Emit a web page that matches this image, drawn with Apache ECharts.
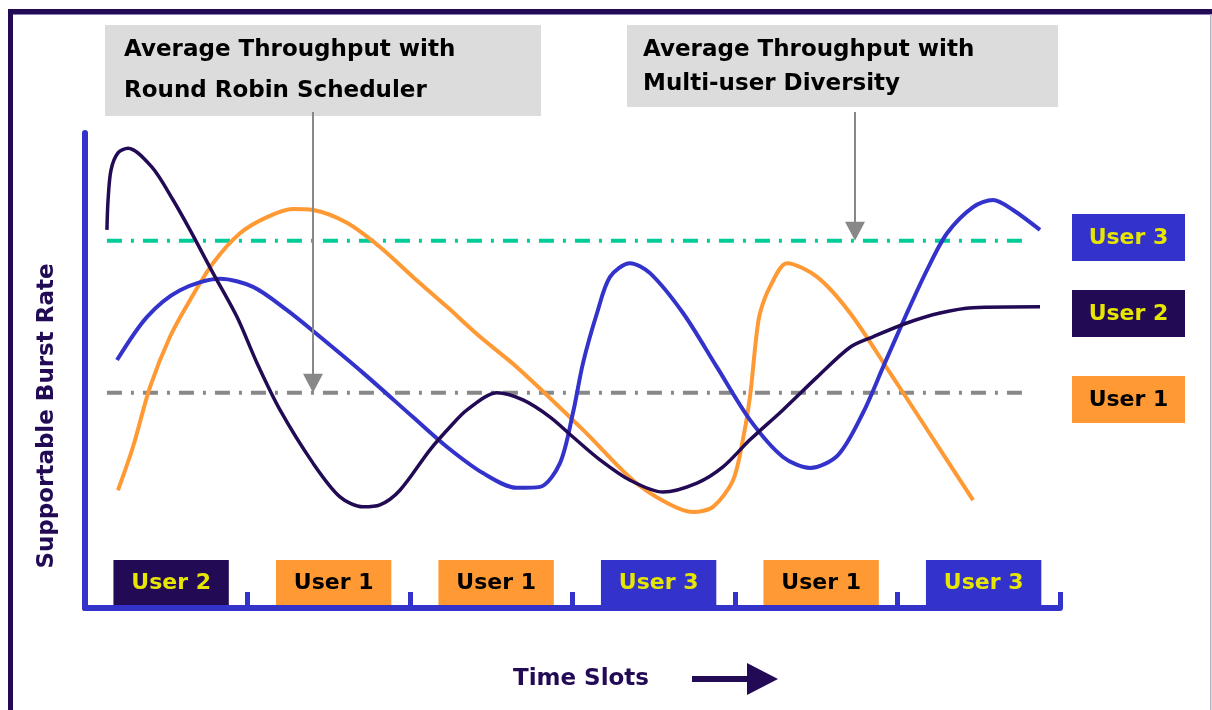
<!DOCTYPE html>
<html><head><meta charset="utf-8">
<script src="https://cdn.jsdelivr.net/npm/echarts@6/dist/echarts.min.js"></script>
<style>html,body{margin:0;padding:0;background:#fff}#c{width:1212px;height:710px}</style>
</head><body><div id="c"></div>
<script>
// ---- data (x in time-slot units, y in relative burst-rate units 0-100) ----
const user1X = [0.203,0.295,0.4,0.523,0.646,0.788,0.954,1.12,1.28,1.403,1.612,1.815,2.018,2.228,2.431,2.658,3.065,3.372,3.582,3.742,3.865,3.988,4.049,4.092,4.13,4.154,4.215,4.32,4.505,4.708,4.954,5.157,5.465];
const user1Y = [24.8,33.9,46.5,57.1,64.8,72.6,78.9,82.3,84.0,83.8,81.1,76.0,69.7,63.4,57.1,50.7,37.5,26.9,22.1,20.2,21.3,26.9,35.5,44.4,56.8,62.1,67.6,72.6,69.7,62.1,49.5,38.9,22.7];
const user2X = [0.135,0.142,0.16,0.203,0.265,0.412,0.542,0.646,0.788,0.935,1.058,1.2,1.403,1.569,1.711,1.815,1.938,2.123,2.246,2.351,2.535,2.695,2.862,3.003,3.169,3.354,3.557,3.766,3.926,4.092,4.295,4.505,4.708,4.849,5.058,5.262,5.465,5.877];
const user2Y = [79.6,85.9,92.2,95.8,96.8,92.8,85.9,79.6,70.5,61.3,51.6,41.7,30.5,23.4,21.3,21.7,24.8,33.3,38.1,41.7,45.3,43.8,40.2,36.0,31.2,26.9,24.4,26.3,29.7,35.4,41.7,48.6,54.9,57.1,60.0,62.1,63.2,63.4];
const user3X = [0.197,0.382,0.585,0.831,1.034,1.243,1.446,1.711,2.018,2.228,2.449,2.658,2.8,2.923,3.003,3.065,3.151,3.231,3.354,3.477,3.68,3.889,4.092,4.295,4.462,4.634,4.788,4.911,5.058,5.182,5.305,5.465,5.588,5.711,5.877];
const user3Y = [52.2,61.3,66.9,69.3,67.6,62.7,57.1,49.5,40.2,33.9,28.4,25.3,25.5,30.5,41.1,51.6,62.1,69.7,72.6,70.5,62.1,50.7,39.6,31.8,29.5,32.2,41.1,50.7,62.1,71.2,78.9,84.4,85.9,83.8,79.6];
const avgRoundRobin = 45.3;     // average throughput, round robin
const avgMultiUser = 77.3;      // average throughput, multi-user diversity
const avgLineX = [0.135, 5.79];
const slotUsers = ['User 2','User 1','User 1','User 3','User 1','User 3'];
const legendUsers = ['User 3','User 2','User 1'];
const annotationRR = ['Average Throughput with','Round Robin Scheduler'];
const annotationMU = ['Average Throughput with','Multi-user Diversity'];
const yTitle = 'Supportable Burst Rate';
const xTitle = 'Time Slots';

// ---- styles ----
const C = {
  'User 1': {fill:'#ff9933', text:'#000000'},
  'User 2': {fill:'#220a55', text:'#e6e600'},
  'User 3': {fill:'#3333cc', text:'#e6e600'}
};
const FONT = '"DejaVu Sans", "Liberation Sans", Arial, sans-serif';
const zip = (a,b) => a.map((v,i)=>[v,b[i]]);

const chart = echarts.init(document.getElementById('c'), null, {renderer:'canvas'});

const curveCommon = {type:'line', smooth:0.3, showSymbol:false};
const option = {
  backgroundColor:'#ffffff',
  animation:false,
  grid:{left:85, right:152, top:133, bottom:102, containLabel:false},
  xAxis:{type:'value', min:0, max:6, interval:1,
    axisLine:{show:true, onZero:false, lineStyle:{color:'#3333cc', width:6}},
    axisTick:{show:true, inside:true, length:16, lineStyle:{color:'#3333cc', width:5}},
    axisLabel:{show:false}, splitLine:{show:false}},
  yAxis:{type:'value', min:0, max:100,
    axisLine:{show:true, lineStyle:{color:'#3333cc', width:6}},
    axisTick:{show:false}, axisLabel:{show:false}, splitLine:{show:false}},
  series:[
    {name:'avgMU', type:'line', data:avgLineX.map(x=>[x,avgMultiUser]), showSymbol:false, silent:true,
      lineStyle:{color:'#00cc99', width:4, type:[15,9,3,9]}, z:2},
    {name:'avgRR', type:'line', data:avgLineX.map(x=>[x,avgRoundRobin]), showSymbol:false, silent:true,
      lineStyle:{color:'#888888', width:4, type:[15,9,3,9]}, z:2},
    Object.assign({name:'User 1', data:zip(user1X,user1Y), lineStyle:{color:'#ff9933', width:4}, z:3}, curveCommon),
    Object.assign({name:'User 3', data:zip(user3X,user3Y), lineStyle:{color:'#3333cc', width:4}, z:4}, curveCommon),
    Object.assign({name:'User 2', data:zip(user2X,user2Y), lineStyle:{color:'#220a55', width:3.5}, z:5}, curveCommon),
    {name:'slots', type:'custom', z:6, clip:false,
      data:slotUsers.map((u,i)=>[i+0.53, 0]),
      renderItem:function(params, api){
        const u = slotUsers[params.dataIndex];
        const c = api.value(0);
        const p0 = api.coord([c-0.355, 0]);
        const p1 = api.coord([c+0.355, 0]);
        return {type:'group', children:[
          {type:'rect', shape:{x:p0[0], y:p0[1]-48, width:p1[0]-p0[0], height:45}, style:{fill:C[u].fill}},
          {type:'text', style:{text:u, x:(p0[0]+p1[0])/2, y:p0[1]-25, align:'center', verticalAlign:'middle',
            fill:C[u].text, font:'bold 22px '+FONT}}
        ]};
      }}
  ]
};
chart.setOption(option);

const yRR = chart.convertToPixel({yAxisIndex:0}, avgRoundRobin);
const yMU = chart.convertToPixel({yAxisIndex:0}, avgMultiUser);

function arrow(x, y0, y1){
  return [
    {type:'line', shape:{x1:x, y1:y0, x2:x, y2:y1-16}, style:{stroke:'#888888', lineWidth:2}, z:20},
    {type:'polygon', shape:{points:[[x-10,y1-19],[x+10,y1-19],[x,y1]]}, style:{fill:'#888888'}, z:20}
  ];
}
const legendTops = [214, 290, 376];
const graphics = [
  // frame
  {type:'rect', shape:{x:8, y:9, width:1204, height:5}, style:{fill:'#220a55'}, z:30},
  {type:'rect', shape:{x:8, y:14, width:1204, height:1}, style:{fill:'#8a7fb0'}, z:30},
  {type:'rect', shape:{x:8, y:9, width:5, height:701}, style:{fill:'#220a55'}, z:30},
  {type:'rect', shape:{x:1210, y:14, width:1.5, height:696}, style:{fill:'#b8b0c8'}, z:30},
  // annotation boxes
  {type:'rect', shape:{x:105, y:25, width:436, height:91}, style:{fill:'#dcdcdc'}, z:10},
  {type:'text', style:{text:annotationRR[0], x:124, y:50, verticalAlign:'middle', fill:'#000', font:'bold 23px '+FONT}, z:11},
  {type:'text', style:{text:annotationRR[1], x:124, y:91, verticalAlign:'middle', fill:'#000', font:'bold 23px '+FONT}, z:11},
  {type:'rect', shape:{x:627, y:25, width:431, height:82}, style:{fill:'#dcdcdc'}, z:10},
  {type:'text', style:{text:annotationMU[0], x:643, y:50, verticalAlign:'middle', fill:'#000', font:'bold 23px '+FONT}, z:11},
  {type:'text', style:{text:annotationMU[1], x:643, y:84, verticalAlign:'middle', fill:'#000', font:'bold 23px '+FONT}, z:11},
  ...arrow(313, 112, yRR),
  ...arrow(855, 112, yMU),
  // axis titles
  {type:'text', x:47, y:416, rotation:Math.PI/2, style:{text:yTitle, align:'center', verticalAlign:'middle', fill:'#220a55', font:'bold 23px '+FONT}, z:11},
  {type:'text', style:{text:xTitle, x:581, y:679, align:'center', verticalAlign:'middle', fill:'#220a55', font:'bold 23px '+FONT}, z:11},
  {type:'polygon', shape:{points:[[692,676],[747,676],[747,663],[778,679],[747,695],[747,682],[692,682]]}, style:{fill:'#220a55'}, z:11}
];
legendUsers.forEach((u,i)=>{
  graphics.push({type:'rect', shape:{x:1072, y:legendTops[i], width:113, height:47}, style:{fill:C[u].fill}, z:10});
  graphics.push({type:'text', style:{text:u, x:1128.5, y:legendTops[i]+24, align:'center', verticalAlign:'middle', fill:C[u].text, font:'bold 22px '+FONT}, z:11});
});
chart.setOption({graphic:graphics});
</script>
</body></html>
